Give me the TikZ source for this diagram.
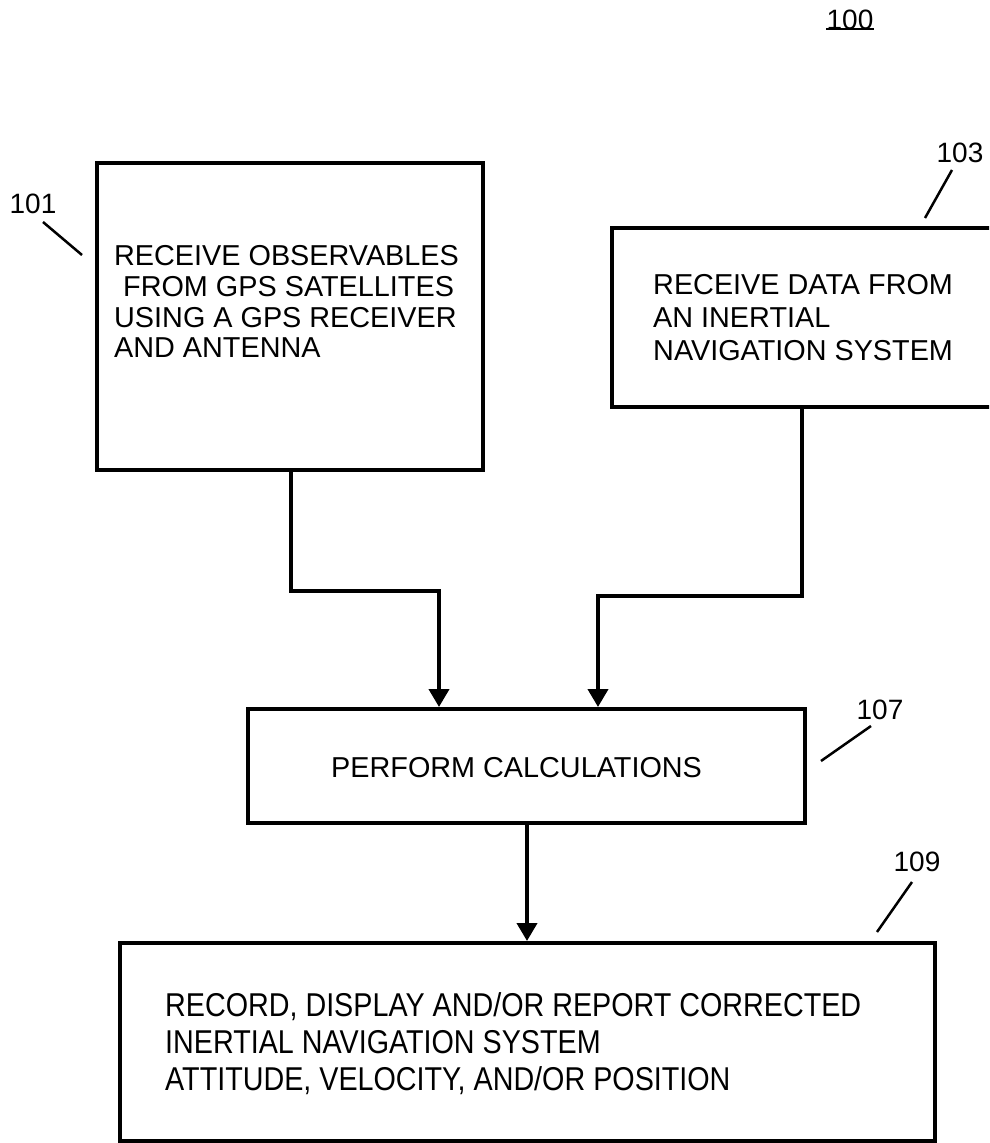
\documentclass[tikz,border=0pt]{standalone}
\usepackage{fontspec}
\setmainfont{Liberation Sans}
\newfontfamily\narrowfont{Liberation Sans}[FakeStretch=0.87]
\usetikzlibrary{arrows.meta}
\begin{document}
\begin{tikzpicture}[x=1pt,y=-1pt,
  box/.style={draw, line width=4pt, inner sep=0pt},
  conn/.style={line width=4pt, -{Triangle[width=20pt,length=18pt]}},
  lead/.style={line width=2.5pt},
  txt/.style={anchor=base west, inner sep=0pt, font=\fontsize{28.8}{30}\selectfont},
  ntxt/.style={anchor=base west, inner sep=0pt, font=\narrowfont\fontsize{33}{36}\selectfont},
  lbl/.style={inner sep=0pt, font=\fontsize{28}{30}\selectfont}]
\useasboundingbox (0,0) rectangle (989,1143);
\clip (0,0) rectangle (989,1143);
% boxes
\node[box, minimum width=386pt, minimum height=307pt] (b101) at (290,316.5) {};
\node[box, minimum width=388pt, minimum height=179pt] (b103) at (806,317.5) {};
\node[box, minimum width=557pt, minimum height=114pt] (b107) at (526.5,766) {};
\node[box, minimum width=815pt, minimum height=198pt] (b109) at (527.5,1042) {};
% texts
\node[txt] (t101a) at (114,265) {RECEIVE OBSERVABLES};
\node[txt] (t101b) at (123,296) {FROM GPS SATELLITES};
\node[txt] (t101c) at (114,327) {USING A GPS RECEIVER};
\node[txt] (t101d) at (114,357) {AND ANTENNA};
\node[txt] (t103a) at (653,294) {RECEIVE DATA FROM};
\node[txt] (t103b) at (653,327) {AN INERTIAL};
\node[txt] (t103c) at (653,360) {NAVIGATION SYSTEM};
\node[txt] (t107) at (331,777) {PERFORM CALCULATIONS};
\node[ntxt] (t109a) at (165,1016) {RECORD, DISPLAY AND/OR REPORT CORRECTED};
\node[ntxt] (t109b) at (165,1053) {INERTIAL NAVIGATION SYSTEM};
\node[ntxt] (t109c) at (165,1090) {ATTITUDE, VELOCITY, AND/OR POSITION};
% labels
\node[lbl] (l100) at (850,20) {100};
\draw[line width=2.5pt] (l100.south west) ++(0,-1) coordinate (u1) (l100.south east) ++(0,-1) coordinate (u2);
\draw[line width=2.5pt] (u1) -- (u2);
\node[lbl] (l101) at (33,204) {101};
\node[lbl] (l103) at (960,153) {103};
\node[lbl] (l107) at (880,710) {107};
\node[lbl] (l109) at (917,862) {109};
\coordinate (a1) at (43,222); \coordinate (a2) at (82,255);
\coordinate (c1) at (952,170); \coordinate (c2) at (925,218);
\coordinate (d1) at (871,726); \coordinate (d2) at (821,761);
\coordinate (e1) at (912,882); \coordinate (e2) at (877,932);
\draw[lead] (a1) -- (a2);
\draw[lead] (c1) -- (c2);
\draw[lead] (d1) -- (d2);
\draw[lead] (e1) -- (e2);
% connectors
\coordinate (j1) at (291,591);
\coordinate (j2) at (439,591);
\draw[conn] (b101.south -| j1) -- (j1) -- (j2) -- (b107.north -| j2);
\coordinate (j3) at (802,596);
\coordinate (j4) at (598,596);
\draw[conn] (b103.south -| j3) -- (j3) -- (j4) -- (b107.north -| j4);
\coordinate (j5) at (527,0);
\draw[conn] (b107.south -| j5) -- (b109.north -| j5);
\end{tikzpicture}
\end{document}
